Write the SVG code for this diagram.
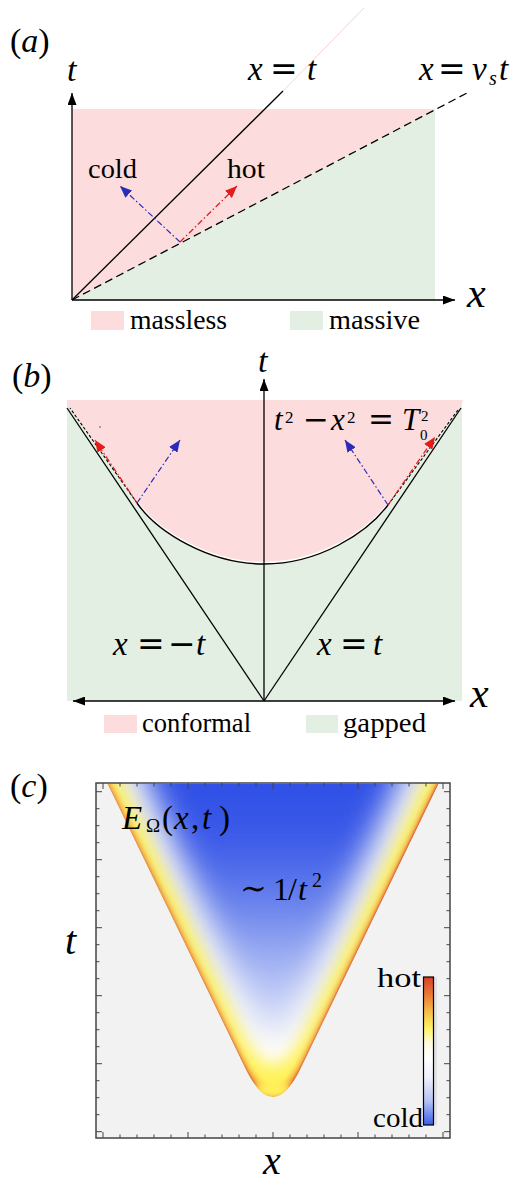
<svg xmlns="http://www.w3.org/2000/svg" width="514" height="1183" viewBox="0 0 514 1183">
<style>
.t{font-family:"Liberation Serif","DejaVu Serif",serif;fill:#000}
.i{font-style:italic}
.eq{font-family:"DejaVu Serif","Liberation Serif",serif}
.ax{stroke:#000;stroke-width:1.3;fill:none}
.dd{stroke-dasharray:6 2.5 1.5 2.5;stroke-width:1.2;fill:none}
.pink{fill:#fcdcdc}
.green{fill:#e4efe4}
</style>
<defs>
<marker id="ak" viewBox="0 0 12 9" refX="12" refY="4.5" markerWidth="12" markerHeight="9" markerUnits="userSpaceOnUse" orient="auto-start-reverse"><path d="M0,0 L12,4.5 L0,9 Z" fill="#000"/></marker>
<marker id="ar" viewBox="0 0 12 10" refX="12" refY="5" markerWidth="12" markerHeight="10" markerUnits="userSpaceOnUse" orient="auto"><path d="M0,0 L12,5 L0,10 Z" fill="#e31b1b"/></marker>
<marker id="ab" viewBox="0 0 12 10" refX="12" refY="5" markerWidth="12" markerHeight="10" markerUnits="userSpaceOnUse" orient="auto"><path d="M0,0 L12,5 L0,10 Z" fill="#2b2bbb"/></marker>
<clipPath id="vclip"><path d="M107.5 784 L245 1068 Q273 1126 301 1068 L438.5 784 Z"/></clipPath>
<filter id="f1" filterUnits="userSpaceOnUse" x="0" y="600" width="514" height="600"><feGaussianBlur stdDeviation="1"/></filter>
<filter id="f2" filterUnits="userSpaceOnUse" x="0" y="600" width="514" height="600"><feGaussianBlur stdDeviation="2.5"/></filter>
<filter id="f3" filterUnits="userSpaceOnUse" x="0" y="600" width="514" height="600"><feGaussianBlur stdDeviation="8"/></filter>
<filter id="f4" filterUnits="userSpaceOnUse" x="0" y="600" width="514" height="600"><feGaussianBlur stdDeviation="16"/></filter>
<filter id="f5" filterUnits="userSpaceOnUse" x="0" y="600" width="514" height="600"><feGaussianBlur stdDeviation="4"/></filter>
<linearGradient id="redg" gradientUnits="userSpaceOnUse" x1="107" y1="0" x2="438" y2="0">
<stop offset="0" stop-color="#e98a3a"/>
<stop offset="1" stop-color="#d43a28"/>
</linearGradient>
<linearGradient id="blueg" gradientUnits="userSpaceOnUse" x1="0" y1="783" x2="0" y2="1070">
<stop offset="0" stop-color="#2f4fe6"/>
<stop offset="0.2" stop-color="#3c5be8"/>
<stop offset="0.41" stop-color="#6680ec"/>
<stop offset="0.62" stop-color="#9fb0f2"/>
<stop offset="0.79" stop-color="#ccd5f8"/>
<stop offset="0.93" stop-color="#eef1fc"/>
<stop offset="1" stop-color="#fbfbfe"/>
</linearGradient>
<linearGradient id="cbar" x1="0" y1="0" x2="0" y2="1">
<stop offset="0" stop-color="#d8402a"/>
<stop offset="0.12" stop-color="#ea7a36"/>
<stop offset="0.25" stop-color="#f6c54a"/>
<stop offset="0.35" stop-color="#fdf36a"/>
<stop offset="0.45" stop-color="#fffbe0"/>
<stop offset="0.55" stop-color="#ffffff"/>
<stop offset="0.68" stop-color="#eef0fc"/>
<stop offset="0.84" stop-color="#b4c2f4"/>
<stop offset="1" stop-color="#3a5cea"/>
</linearGradient>
</defs>

<!-- Panel (a) -->
<g id="panel-a">
<rect class="pink" x="72" y="109" width="363" height="191"/>
<polygon class="green" points="72,300 435,109 435,300"/>
<line x1="283" y1="91" x2="364" y2="8" stroke="#f9d2d2" stroke-width="1"/>
<line x1="72" y1="300" x2="283" y2="91" stroke="#000" stroke-width="1.3"/>
<line x1="72" y1="300" x2="467" y2="93" stroke="#000" stroke-width="1.3" stroke-dasharray="8 4.5"/>
<line class="ax" x1="72" y1="300" x2="72" y2="93" stroke="#333" marker-end="url(#ak)"/>
<line class="ax" x1="72" y1="300" x2="455" y2="300" marker-end="url(#ak)"/>
<line class="dd" x1="180" y1="242" x2="120" y2="186" stroke="#2b2bbb" marker-end="url(#ab)"/>
<line class="dd" x1="180" y1="242" x2="237" y2="186" stroke="#e31b1b" marker-end="url(#ar)"/>
<text class="t" x="10" y="52" font-size="34">(<tspan class="i">a</tspan>)</text>
<text class="t i" x="67" y="81" font-size="34">t</text>
<text class="t" y="80" font-size="33"><tspan class="i" x="248">x</tspan><tspan class="eq" x="270">=</tspan><tspan class="i" x="307">t</tspan></text>
<text class="t" y="80" font-size="33"><tspan class="i" x="419">x</tspan><tspan class="eq" x="438">=</tspan><tspan class="i" x="472">v</tspan><tspan x="489" y="85" font-size="20" class="i">s</tspan><tspan class="i" x="499" y="80">t</tspan></text>
<text class="t i" x="467" y="307" font-size="42">x</text>
<text class="t" x="88" y="178" font-size="27" textLength="49" lengthAdjust="spacingAndGlyphs">cold</text>
<text class="t" x="227" y="178" font-size="27" textLength="38" lengthAdjust="spacingAndGlyphs">hot</text>
<rect class="pink" x="91" y="311" width="33" height="19"/>
<text class="t" x="130" y="329" font-size="27" textLength="97" lengthAdjust="spacingAndGlyphs">massless</text>
<rect class="green" x="290" y="311" width="33" height="19"/>
<text class="t" x="329" y="329" font-size="27" textLength="91" lengthAdjust="spacingAndGlyphs">massive</text>
</g>

<!-- Panel (b) -->
<g id="panel-b">
<rect class="green" x="67" y="400" width="395" height="301"/>
<path class="pink" d="M67 400 H463 L458 410 L388 505 C367 533 319 564 264 564 C209 564 157 532 137 503 L70 408 L67 404 Z"/>
<line x1="264" y1="701" x2="67" y2="408" stroke="#000" stroke-width="1.3"/>
<line x1="264" y1="701" x2="461" y2="408" stroke="#000" stroke-width="1.3"/>
<path d="M137 501.5 C157 530.5 209 562.5 264 562.5 C319 562.5 367 531.5 388 503.5" fill="none" stroke="#fff" stroke-width="1.5"/>
<path d="M137 503 C157 532 209 564 264 564 C319 564 367 533 388 505" fill="none" stroke="#000" stroke-width="1.4"/>
<line x1="137" y1="503" x2="70" y2="408" stroke="#000" stroke-width="1.1" stroke-dasharray="3 2"/>
<line x1="388" y1="505" x2="458" y2="410" stroke="#000" stroke-width="1.1" stroke-dasharray="3 2"/>
<line class="ax" x1="264" y1="701" x2="264" y2="379" marker-end="url(#ak)"/>
<line class="ax" x1="73" y1="701" x2="455" y2="701" marker-start="url(#ak)" marker-end="url(#ak)"/>
<line class="dd" x1="137" y1="503" x2="95" y2="440" stroke="#e31b1b" marker-end="url(#ar)"/>
<line class="dd" x1="137" y1="503" x2="180" y2="440" stroke="#2b2bbb" marker-end="url(#ab)"/>
<line class="dd" x1="388" y1="505" x2="435" y2="437" stroke="#e31b1b" marker-end="url(#ar)"/>
<line class="dd" x1="388" y1="505" x2="345" y2="440" stroke="#2b2bbb" marker-end="url(#ab)"/>
<circle cx="100" cy="427" r="0.8" fill="#555"/>
<text class="t" x="12" y="387" font-size="34">(<tspan class="i">b</tspan>)</text>
<text class="t i" x="258" y="372" font-size="34">t</text>
<text class="t i" x="470" y="707" font-size="42">x</text>
<text class="t" y="430" font-size="31"><tspan class="i" x="274">t</tspan><tspan x="285" y="423" font-size="17">2</tspan><tspan class="eq" x="303" y="430">−</tspan><tspan class="i" x="331">x</tspan><tspan x="347" y="423" font-size="17">2</tspan><tspan class="eq" x="368" y="430">=</tspan><tspan class="i" x="402">T</tspan><tspan x="421" y="421" font-size="15">2</tspan></text>
<text class="t" x="420" y="440" font-size="15">0</text>
<text class="t" y="655" font-size="33"><tspan class="i" x="113">x</tspan><tspan class="eq" x="137">=</tspan><tspan class="eq" x="168">−</tspan><tspan class="i" x="196">t</tspan></text>
<text class="t" y="655" font-size="33"><tspan class="i" x="317">x</tspan><tspan class="eq" x="340">=</tspan><tspan class="i" x="373">t</tspan></text>
<rect class="pink" x="104" y="715" width="33" height="18"/>
<text class="t" x="142" y="731.5" font-size="27" textLength="109" lengthAdjust="spacingAndGlyphs">conformal</text>
<rect class="green" x="306" y="715" width="32" height="18"/>
<text class="t" x="343" y="731.5" font-size="27" textLength="83" lengthAdjust="spacingAndGlyphs">gapped</text>
</g>

<!-- Panel (c) -->
<g id="panel-c">
<rect x="96" y="783" width="354" height="355" fill="#f2f2f2"/>
<g clip-path="url(#vclip)">
<path d="M66.8 700 L245 1068 Q273 1126 301 1068 L479.2 700 Z" fill="url(#redg)"/>
<path d="M68.3 700 L245 1065 Q273 1123 301 1065 L477.7 700 Z" fill="#f3a83c" filter="url(#f1)"/>
<path d="M71.2 700 L245 1059 Q273 1117 301 1059 L474.8 700 Z" fill="#fff25a" filter="url(#f2)"/>
<ellipse cx="273" cy="1090" rx="20" ry="9" fill="#fff25a" filter="url(#f5)"/>
<path d="M82 700 L245 1036 Q273 1094 301 1036 L464 700 Z" fill="#fffef6" filter="url(#f3)"/>
<path d="M110 700 L249 1010 Q273 1070 297 1010 L436 700 Z" fill="url(#blueg)" filter="url(#f4)"/>
</g>
<path fill="none" stroke="#444" stroke-width="1" d="
M103 1138v-6 M120 1138v-3.5 M137 1138v-3.5 M154 1138v-3.5 M171 1138v-3.5 M188 1138v-6 M205 1138v-3.5 M222 1138v-3.5 M239 1138v-3.5 M256 1138v-3.5 M273 1138v-6 M290 1138v-3.5 M307 1138v-3.5 M324 1138v-3.5 M341 1138v-3.5 M358 1138v-6 M375 1138v-3.5 M392 1138v-3.5 M409 1138v-3.5 M426 1138v-3.5 M443 1138v-6
M103 783v6 M120 783v3.5 M137 783v3.5 M154 783v3.5 M171 783v3.5 M188 783v6 M205 783v3.5 M222 783v3.5 M239 783v3.5 M256 783v3.5 M273 783v6 M290 783v3.5 M307 783v3.5 M324 783v3.5 M341 783v3.5 M358 783v6 M375 783v3.5 M392 783v3.5 M409 783v3.5 M426 783v3.5 M443 783v6
M96 791.7h6 M96 808.7h3.5 M96 825.7h3.5 M96 842.7h3.5 M96 859.7h6 M96 876.7h3.5 M96 893.7h3.5 M96 910.7h3.5 M96 927.7h6 M96 944.7h3.5 M96 961.7h3.5 M96 978.7h3.5 M96 995.7h6 M96 1012.7h3.5 M96 1029.7h3.5 M96 1046.7h3.5 M96 1063.7h6 M96 1080.7h3.5 M96 1097.7h3.5 M96 1114.7h3.5 M96 1131.7h6
M450 791.7h-6 M450 808.7h-3.5 M450 825.7h-3.5 M450 842.7h-3.5 M450 859.7h-6 M450 876.7h-3.5 M450 893.7h-3.5 M450 910.7h-3.5 M450 927.7h-6 M450 944.7h-3.5 M450 961.7h-3.5 M450 978.7h-3.5 M450 995.7h-6 M450 1012.7h-3.5 M450 1029.7h-3.5 M450 1046.7h-3.5 M450 1063.7h-6 M450 1080.7h-3.5 M450 1097.7h-3.5 M450 1114.7h-3.5 M450 1131.7h-6"/>
<rect x="96" y="783" width="354" height="355" fill="none" stroke="#444" stroke-width="1.5"/>
<rect x="433.5" y="977" width="3.5" height="148" fill="#e2e2e2"/>
<rect x="423.5" y="977" width="10" height="148" fill="url(#cbar)" stroke="#000" stroke-width="1.2"/>
<text class="t" x="10" y="797" font-size="34">(<tspan class="i">c</tspan>)</text>
<text class="t i" x="65" y="954" font-size="40">t</text>
<text class="t i" x="263" y="1174" font-size="40">x</text>
<text class="t" y="829" font-size="33"><tspan class="i" x="122">E</tspan><tspan x="146" y="832" font-size="19">Ω</tspan><tspan x="162" y="829">(</tspan><tspan class="i" x="174">x</tspan><tspan x="191">,</tspan><tspan class="i" x="202">t</tspan><tspan x="219">)</tspan></text>
<text class="t" y="900" font-size="32"><tspan class="eq" x="240" y="899">∼</tspan><tspan x="273" y="900">1</tspan><tspan x="288">/</tspan><tspan class="i" x="298">t</tspan><tspan x="312" y="887" font-size="20">2</tspan></text>
<text class="t" x="377" y="987" font-size="28" textLength="44" lengthAdjust="spacingAndGlyphs">hot</text>
<text class="t" x="373" y="1127" font-size="28" textLength="50" lengthAdjust="spacingAndGlyphs">cold</text>
</g>
</svg>
